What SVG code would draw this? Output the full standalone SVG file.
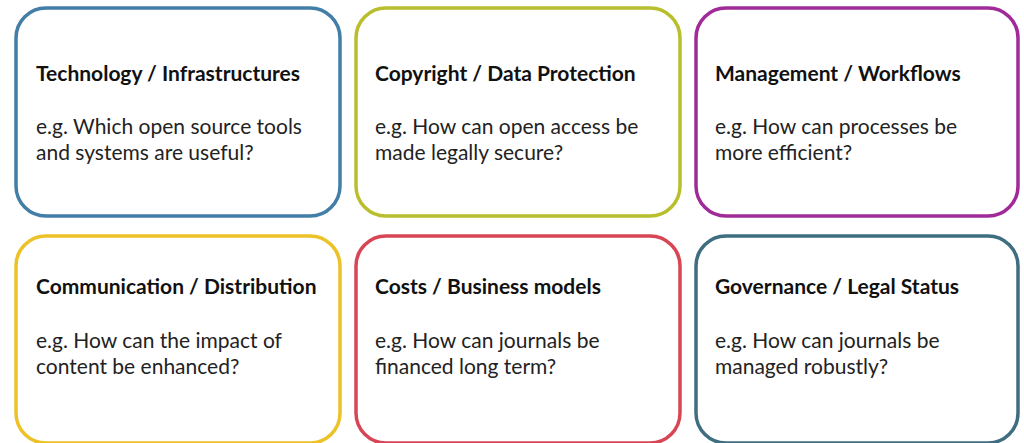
<svg xmlns="http://www.w3.org/2000/svg" width="1024" height="443" viewBox="0 0 1024 443">
  <style>
    .card { fill: #ffffff; stroke-width: 3.5; }
    .title { font-family: Lato, "Liberation Sans", sans-serif; font-weight: 700; font-size: 21px; fill: #111111; }
    .body { font-family: Lato, "Liberation Sans", sans-serif; font-size: 21px; fill: #222222; }
  </style>
  <rect width="1024" height="443" fill="#ffffff"/>

  <g id="technology">
    <rect class="card" x="16" y="8" width="324" height="208" rx="30" stroke="#437ea6"/>
    <text class="title" x="36" y="81">Technology / Infrastructures</text>
    <text class="body" x="36" y="134">e.g. Which open source tools</text>
    <text class="body" x="36" y="160">and systems are useful?</text>
  </g>

  <g id="copyright">
    <rect class="card" x="356" y="8" width="324" height="208" rx="30" stroke="#b9bf2c"/>
    <text class="title" x="375" y="81">Copyright / Data Protection</text>
    <text class="body" x="375" y="134">e.g. How can open access be</text>
    <text class="body" x="375" y="160">made legally secure?</text>
  </g>

  <g id="management">
    <rect class="card" x="696" y="8" width="322" height="208" rx="30" stroke="#a02b98"/>
    <text class="title" x="715" y="81">Management / Workflows</text>
    <text class="body" x="715" y="134">e.g. How can processes be</text>
    <text class="body" x="715" y="160">more efficient?</text>
  </g>

  <g id="communication">
    <rect class="card" x="16" y="236" width="324" height="207" rx="30" stroke="#ecc228"/>
    <text class="title" x="36" y="294">Communication / Distribution</text>
    <text class="body" x="36" y="348">e.g. How can the impact of</text>
    <text class="body" x="36" y="374">content be enhanced?</text>
  </g>

  <g id="costs">
    <rect class="card" x="356" y="236" width="324" height="207" rx="30" stroke="#d84656"/>
    <text class="title" x="375" y="294">Costs / Business models</text>
    <text class="body" x="375" y="348">e.g. How can journals be</text>
    <text class="body" x="375" y="374">financed long term?</text>
  </g>

  <g id="governance">
    <rect class="card" x="696" y="236" width="322" height="207" rx="30" stroke="#3f6e80"/>
    <text class="title" x="715" y="294">Governance / Legal Status</text>
    <text class="body" x="715" y="348">e.g. How can journals be</text>
    <text class="body" x="715" y="374">managed robustly?</text>
  </g>

  <g id="connectors"/>
</svg>
